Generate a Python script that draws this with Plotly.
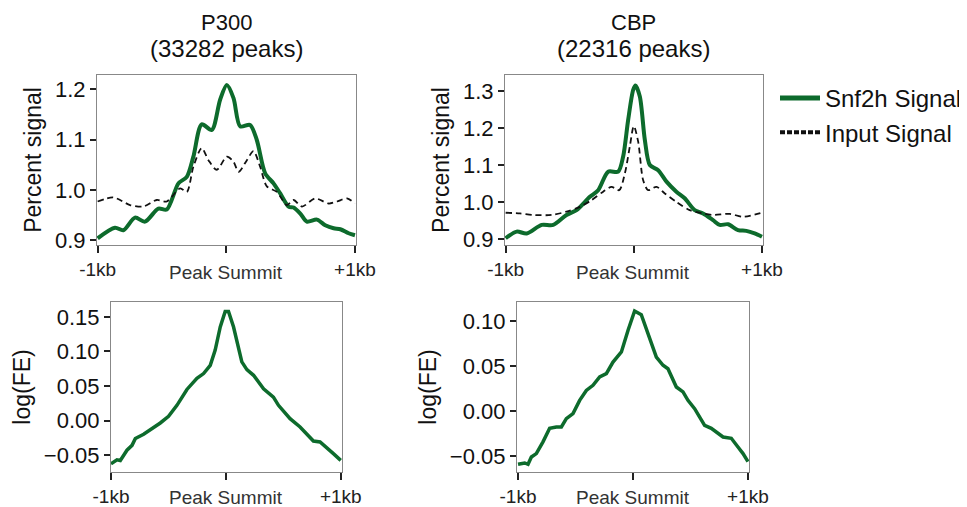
import plotly.graph_objects as go

# ---------------- data ----------------
p300_snf2h_x = [-1000, -865, -800, -710, -632, -528, -463, -372, -307, -256, -191, -113, -48, 4, 56, 108, 185, 237,
                302, 367, 419, 484, 523, 575, 626, 704, 769, 834, 886, 951, 1000]
p300_snf2h_y = [0.904, 0.925, 0.920, 0.945, 0.937, 0.963, 0.961, 1.013, 1.026, 1.066, 1.130, 1.119, 1.179, 1.208,
                1.182, 1.126, 1.129, 1.099, 1.033, 1.013, 0.993, 0.967, 0.965, 0.953, 0.937, 0.941, 0.930, 0.924,
                0.922, 0.914, 0.910]
p300_input_x = [-1000, -878, -748, -645, -541, -463, -359, -307, -256, -191, -139, -74, 4, 56, 95, 160, 211, 263,
                315, 393, 471, 523, 588, 691, 795, 860, 938, 1000]
p300_input_y = [0.977, 0.985, 0.970, 0.967, 0.980, 0.977, 1.003, 0.996, 1.046, 1.083, 1.059, 1.040, 1.066, 1.056,
                1.036, 1.059, 1.077, 1.046, 1.007, 0.996, 0.970, 0.980, 0.967, 0.983, 0.973, 0.977, 0.983, 0.973]

cbp_snf2h_x = [-1000, -914, -836, -719, -629, -525, -447, -343, -278, -200, -122, -83, -44, -5, 13, 47, 86, 125,
               190, 255, 332, 397, 475, 540, 618, 670, 735, 813, 878, 943, 1000]
cbp_snf2h_y = [0.902, 0.920, 0.915, 0.938, 0.938, 0.965, 0.978, 1.014, 1.032, 1.082, 1.082, 1.123, 1.222, 1.303,
               1.315, 1.285, 1.168, 1.100, 1.086, 1.055, 1.028, 1.010, 0.978, 0.969, 0.951, 0.938, 0.940, 0.924,
               0.922, 0.915, 0.906]
cbp_input_x = [-1000, -888, -784, -642, -525, -421, -330, -239, -174, -114, -70, -31, 0, 34, 73, 112, 177, 242,
               332, 436, 540, 618, 748, 852, 1000]
cbp_input_y = [0.971, 0.969, 0.965, 0.965, 0.974, 0.987, 1.005, 1.028, 1.041, 1.032, 1.077, 1.150, 1.205, 1.163,
               1.059, 1.032, 1.041, 1.023, 1.000, 0.978, 0.969, 0.965, 0.968, 0.960, 0.971]

p300_fe_x = [-1000, -948, -919, -861, -817, -788, -716, -614, -571, -499, -426, -339, -252, -194, -136, -93, -49,
             -6, 23, 67, 110, 139, 183, 241, 328, 414, 458, 516, 559, 646, 733, 762, 820, 864, 936, 1000]
p300_fe_y = [-0.0626, -0.057, -0.058, -0.043, -0.036, -0.026, -0.020, -0.009, -0.0036, 0.006, 0.022, 0.045, 0.061,
             0.068, 0.080, 0.102, 0.1355, 0.158, 0.158, 0.1355, 0.102, 0.085, 0.0737, 0.0655, 0.046, 0.034, 0.022,
             0.010, 0.0027, -0.0094, -0.024, -0.0297, -0.031, -0.038, -0.048, -0.0577]

cbp_fe_x = [-1000, -942, -913, -884, -841, -783, -725, -667, -623, -580, -522, -464, -406, -348, -290, -232, -174,
            -101, -43, 14, 72, 130, 203, 261, 304, 377, 435, 478, 536, 623, 681, 783, 855, 913, 957, 1000]
cbp_fe_y = [-0.0589, -0.0574, -0.0589, -0.0508, -0.047, -0.034, -0.019, -0.0175, -0.0175, -0.0083, -0.0027, 0.012,
            0.023, 0.0287, 0.038, 0.0416, 0.0545, 0.0656, 0.0897, 0.111, 0.107, 0.086, 0.060, 0.0509, 0.047, 0.0268,
            0.0213, 0.012, 0.0028, -0.0157, -0.019, -0.0286, -0.030, -0.0397, -0.047, -0.056]

panel_names = ["P300", "CBP"]
panel_peaks = ["(33282 peaks)", "(22316 peaks)"]
x_tickvals = [-1000, 0, 1000]
x_ticktext = ["-1kb", "", "+1kb"]
x_label = "Peak Summit"
series_names = ["Snf2h Signal", "Input Signal"]

# ---------------- styling ----------------
OFF = 8                      # default page body margin
W, H = 967 - OFF, 507 - OFF  # figure size that fits the window
GREEN = "#0d6b2c"
BLACK = "#111111"
FONT = "Liberation Sans, Arial, sans-serif"

def px_x(p):
    return (p - OFF) / W

def px_y(p):
    return 1 - (p - OFF) / H

def dom_x(a, b):
    return [px_x(a), px_x(b)]

def dom_y(top, bottom):
    return [px_y(bottom), px_y(top)]

GREEN_LINE = dict(color=GREEN, width=4, shape="spline", smoothing=0.8)
DASH_LINE = dict(color=BLACK, width=1.8, dash="6px,4px", shape="spline", smoothing=0.8)

fig = go.Figure()
fig.add_trace(go.Scatter(x=p300_snf2h_x, y=p300_snf2h_y, mode="lines", line=GREEN_LINE,
                         name=series_names[0], xaxis="x", yaxis="y", showlegend=False))
fig.add_trace(go.Scatter(x=p300_input_x, y=p300_input_y, mode="lines", line=DASH_LINE,
                         name=series_names[1], xaxis="x", yaxis="y", showlegend=False))
fig.add_trace(go.Scatter(x=cbp_snf2h_x, y=cbp_snf2h_y, mode="lines", line=GREEN_LINE,
                         name=series_names[0], xaxis="x2", yaxis="y2", showlegend=False))
fig.add_trace(go.Scatter(x=cbp_input_x, y=cbp_input_y, mode="lines", line=DASH_LINE,
                         name=series_names[1], xaxis="x2", yaxis="y2", showlegend=False))
fig.add_trace(go.Scatter(x=p300_fe_x, y=p300_fe_y, mode="lines", line=dict(color=GREEN, width=3.5),
                         name=series_names[0], xaxis="x3", yaxis="y3", showlegend=False))
fig.add_trace(go.Scatter(x=cbp_fe_x, y=cbp_fe_y, mode="lines", line=dict(color=GREEN, width=3.5),
                         name=series_names[0], xaxis="x4", yaxis="y4", showlegend=False))
# legend entries (keys drawn thicker, as in the reference)
fig.add_trace(go.Scatter(x=[None], y=[None], mode="lines", line=dict(color=GREEN, width=5),
                         name=series_names[0], xaxis="x", yaxis="y"))
fig.add_trace(go.Scatter(x=[None], y=[None], mode="lines", line=dict(color=BLACK, width=4, dash="5px,2px"),
                         name=series_names[1], xaxis="x", yaxis="y"))

def xaxis(domain, anchor, rng):
    return dict(domain=domain, anchor=anchor, range=rng, showline=True, mirror=True, linecolor="#888888",
                linewidth=1.2, ticks="outside", ticklen=7, tickwidth=1.5, tickcolor="#222222",
                tickvals=x_tickvals, ticktext=x_ticktext, showgrid=False, zeroline=False, automargin=False,
                tickfont=dict(family=FONT, size=19, color="#222222"))

def yaxis(domain, anchor, rng, tickvals, fmt, title):
    return dict(domain=domain, anchor=anchor, range=rng, showline=True, mirror=True, linecolor="#888888",
                linewidth=1.2, ticks="outside", ticklen=6, tickwidth=1.5, tickcolor="#222222",
                tickvals=tickvals, tickformat=fmt, showgrid=False, zeroline=False, automargin=False,
                tickfont=dict(family=FONT, size=22, color=BLACK),
                title=dict(text=title, font=dict(family=FONT, size=23, color=BLACK), standoff=6))

fig.update_layout(
    template="none",
    width=W, height=H,
    margin=dict(l=0, r=0, t=0, b=0, pad=0, autoexpand=False),
    paper_bgcolor="white", plot_bgcolor="white",
    font=dict(family=FONT),
    xaxis=xaxis(dom_x(97, 356), "y", [-1005, 1008]),
    yaxis=yaxis(dom_y(75, 245), "x", [0.8907, 1.228], [0.9, 1.0, 1.1, 1.2], ".1f", "Percent signal"),
    xaxis2=xaxis(dom_x(505, 763), "y2", [-1005, 1008]),
    yaxis2=yaxis(dom_y(75, 245), "x2", [0.8838, 1.3432], [0.9, 1.0, 1.1, 1.2, 1.3], ".1f", "Percent signal"),
    xaxis3=xaxis(dom_x(111, 342), "y3", [-1000, 1011]),
    yaxis3=yaxis(dom_y(302, 472), "x3", [-0.0746, 0.1717], [-0.05, 0.0, 0.05, 0.10, 0.15], ".2f", "log(FE)"),
    xaxis4=xaxis(dom_x(517, 749), "y4", [-1009, 1009]),
    yaxis4=yaxis(dom_y(302, 472), "x4", [-0.0674, 0.121], [-0.05, 0.0, 0.05, 0.10], ".2f", "log(FE)"),
    legend=dict(x=px_x(775), y=px_y(76), xanchor="left", yanchor="top", bgcolor="rgba(0,0,0,0)",
                font=dict(family=FONT, size=24, color=BLACK), itemwidth=40, tracegroupgap=0),
    showlegend=True,
)

annotations = []
for i, cx in enumerate([226, 633]):
    annotations.append(dict(text=panel_names[i], x=px_x(cx), y=1, xref="paper", yref="paper",
                            xanchor="center", yanchor="top", showarrow=False,
                            font=dict(family=FONT, size=22, color=BLACK)))
    annotations.append(dict(text=panel_peaks[i], x=px_x(cx), y=px_y(49), xref="paper", yref="paper",
                            xanchor="center", yanchor="middle", showarrow=False,
                            font=dict(family=FONT, size=24, color=BLACK)))
for cx, cy in [(226, 272), (633, 272), (226, 497), (633, 497)]:
    annotations.append(dict(text=x_label, x=px_x(cx), y=px_y(cy), xref="paper", yref="paper",
                            xanchor="center", yanchor="middle", showarrow=False,
                            font=dict(family=FONT, size=19, color="#333333")))
fig.update_layout(annotations=annotations)

fig.write_html("out.html")
